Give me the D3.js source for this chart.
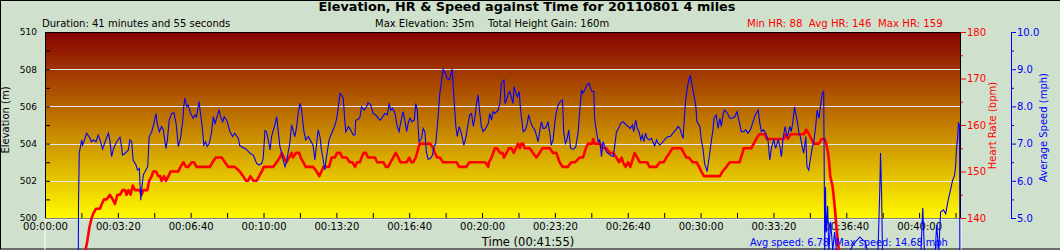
<!DOCTYPE html>
<html>
<head>
<meta charset="utf-8">
<script src="https://cdn.jsdelivr.net/npm/d3@7"></script>
<style>
  body { margin: 0; background: #cfe0cc; }
  svg { display: block; }
  text { font-family: "DejaVu Sans", Verdana, sans-serif; white-space: pre; }
</style>
</head>
<body>
<svg id="chart" width="1060" height="250"></svg>
<script>
// run length and axis ranges
const totalSeconds = 2515;
const elevDomain = [500, 510];
const hrDomain = [140, 180];
const speedDomain = [5, 10];

// tick values
const elevTicks = d3.range(500, 511, 1);
const timeTicks = d3.range(0, totalSeconds, 100);
const hrMajorTicks = [140, 150, 160, 170, 180];
const hrMinorTicks = [145, 155, 165, 175];
const speedMajorTicks = [5, 6, 7, 8, 9, 10];
const speedMinorTicks = [5.5, 6.5, 7.5, 8.5, 9.5];

// elevation (m) - sits far under the 500-510 window
const elevSeconds = [0, 420, 840, 1260, 1680, 2100, 2515];
const elevMeters = [12, 20, 35, 26, 18, 30, 14];

// heart rate (bpm)
const hrSeconds = [0,116,122,128,133,140,151,156,162,169,178,186,192,199,206,213,220,224,229,235,241,247,253,261,265,270,274,281,286,293,297,305,311,316,320,327,332,339,345,352,366,372,380,387,393,403,409,416,453,460,469,485,494,503,512,521,535,544,552,558,564,572,581,588,595,601,608,627,636,645,650,656,663,670,677,681,689,698,702,709,716,723,736,746,753,759,764,773,780,787,796,802,810,817,828,837,844,851,857,865,869,875,881,887,906,912,919,929,936,942,949,956,963,970,976,993,1000,1006,1011,1018,1025,1029,1034,1052,1058,1066,1070,1077,1084,1093,1130,1137,1143,1157,1165,1171,1180,1194,1201,1208,1217,1219,1226,1235,1241,1249,1256,1260,1267,1274,1281,1287,1293,1299,1304,1308,1313,1317,1322,1331,1340,1349,1358,1366,1377,1386,1395,1404,1413,1421,1427,1436,1445,1455,1468,1477,1485,1491,1503,1505,1509,1523,1532,1541,1551,1560,1569,1576,1583,1587,1594,1601,1607,1615,1619,1626,1633,1647,1653,1660,1679,1688,1699,1706,1715,1723,1747,1754,1761,1768,1778,1789,1796,1802,1809,1853,1860,1871,1880,1887,1907,1915,1918,1939,1946,1953,1961,1967,1976,1982,1990,1999,2022,2028,2034,2040,2047,2054,2063,2070,2077,2083,2090,2098,2104,2111,2118,2125,2132,2141,2145,2150,2153,2156,2162,2165,2170,2173,2177,2200,2515];
const hrBpm = [88,135,138,140,141,142,142,143,144,144,145,144,143,145,145,146,146,145,146,145,147,146,146,146,145,146,146,146,148,149,150,150,149,149,148,149,148,149,150,150,150,151,152,151,151,152,152,151,151,152,153,153,152,151,151,151,150,149,148,148,149,148,148,149,150,151,151,151,152,153,154,153,152,153,154,153,154,154,153,152,151,151,151,150,149,150,151,151,151,153,153,154,154,153,153,152,152,151,152,152,153,154,154,153,153,152,152,152,151,151,152,153,154,153,152,152,153,152,152,153,155,156,156,156,156,155,154,153,153,152,152,151,151,151,152,152,152,152,152,152,151,152,153,155,155,154,154,153,154,155,155,154,155,156,155,156,156,155,155,155,154,153,154,155,155,155,154,154,152,151,151,151,152,152,153,153,155,156,156,157,156,156,155,155,154,154,153,152,153,152,151,152,151,153,154,153,152,152,152,151,151,152,152,153,154,155,155,154,153,153,152,152,151,150,149,149,150,151,152,152,152,154,155,155,156,157,158,158,158,157,157,157,157,157,158,157,158,158,158,158,158,158,159,158,157,156,156,156,157,157,156,154,152,149,147,145,141,138,135,118,100];

// average speed (mph)
const speedSeconds = [90,92,94,98,101,103,107,114,122,128,133,140,146,151,158,165,174,178,183,188,197,206,210,213,220,229,233,238,242,250,254,259,263,265,270,277,282,286,293,299,305,308,314,320,325,332,336,341,348,354,360,366,372,378,381,384,389,393,400,407,412,416,423,427,433,436,441,445,451,457,462,467,471,478,482,488,492,499,508,515,521,531,535,542,552,563,572,581,588,595,599,604,608,613,618,622,627,631,636,640,645,650,654,659,663,672,677,682,686,691,695,700,704,711,716,723,729,736,741,746,750,755,759,764,768,773,780,787,793,800,805,810,814,819,823,826,833,839,846,851,853,860,865,869,876,883,887,894,901,908,915,921,927,933,940,945,949,954,961,967,972,976,983,988,993,997,1002,1008,1014,1018,1022,1027,1034,1038,1043,1047,1052,1058,1064,1068,1073,1079,1084,1089,1093,1099,1104,1110,1113,1118,1122,1128,1132,1137,1143,1150,1155,1159,1166,1171,1176,1180,1185,1189,1194,1198,1203,1210,1217,1221,1226,1230,1235,1244,1249,1253,1260,1263,1267,1272,1276,1281,1285,1288,1293,1297,1302,1305,1309,1313,1319,1324,1328,1333,1338,1345,1349,1354,1358,1363,1368,1372,1377,1381,1386,1390,1395,1400,1404,1409,1415,1421,1424,1429,1433,1438,1443,1450,1457,1464,1468,1473,1476,1482,1488,1494,1498,1502,1507,1509,1514,1519,1523,1528,1532,1537,1541,1546,1552,1560,1564,1569,1573,1580,1587,1596,1601,1607,1613,1616,1622,1626,1631,1636,1640,1644,1649,1653,1659,1665,1670,1674,1679,1683,1688,1697,1704,1711,1717,1724,1732,1738,1743,1747,1752,1755,1759,1764,1768,1772,1777,1781,1787,1790,1798,1802,1807,1811,1818,1825,1830,1834,1837,1843,1848,1853,1857,1862,1866,1874,1880,1887,1894,1900,1906,1912,1918,1924,1930,1937,1944,1950,1958,1962,1967,1973,1979,1985,1990,1995,2001,2006,2013,2017,2022,2026,2032,2037,2041,2045,2049,2054,2058,2061,2065,2070,2074,2079,2083,2089,2092,2097,2101,2107,2111,2116,2120,2125,2129,2134,2138,2141,2143,2145,2149,2152,2157,2163,2168,2176,2196,2218,2237,2253,2264,2286,2292,2294,2297,2300,2347,2404,2410,2415,2443,2448,2454,2459,2467,2473,2478,2486,2492,2497,2500,2503,2506,2508,2511,2513];
const speedMph = [0,5.39,6.74,6.96,7.10,6.96,7.05,7.28,7.17,7.05,7.10,7.05,7.23,7.10,6.85,7.05,7.28,7.10,6.65,6.87,7.05,7.17,6.92,6.69,6.74,6.83,7.10,7.05,6.56,6.42,6.29,6.33,5.48,5.75,6.16,6.29,6.38,7.19,7.32,7.54,7.81,7.54,7.32,7.46,7.37,6.87,7.10,7.63,7.81,7.83,7.54,6.92,7.14,7.59,7.99,8.22,7.99,8.04,7.81,7.68,7.77,7.72,8.13,7.81,7.32,6.96,7.05,6.92,7.01,7.28,7.72,7.54,7.68,7.91,7.72,7.59,7.72,7.63,7.32,7.19,7.28,7.14,6.94,6.90,6.85,6.74,6.69,6.47,6.42,6.47,6.60,7.35,7.32,7.10,6.83,7.19,7.37,7.50,7.72,7.37,6.92,6.74,6.56,6.38,6.51,7.01,7.50,7.32,7.19,7.46,7.81,8.08,7.95,7.32,7.10,7.19,7.08,6.96,6.56,7.01,7.37,7.19,6.83,6.56,6.29,6.65,7.10,7.28,7.41,7.63,7.95,8.35,8.31,8.22,7.63,7.32,7.46,7.37,7.23,7.23,7.63,7.65,7.72,7.99,7.90,7.99,8.10,8.04,7.81,7.77,7.68,7.63,7.72,7.81,7.77,8.08,7.90,7.95,7.81,7.46,7.32,7.54,7.86,7.63,7.32,7.54,7.68,7.59,7.63,8.08,7.90,7.05,7.14,7.41,7.32,6.78,6.58,6.60,6.69,6.92,7.01,7.68,8.35,8.71,9.00,8.89,8.75,8.71,8.80,9.00,8.35,7.46,7.19,7.46,7.28,6.96,7.14,7.37,7.77,7.81,7.46,7.68,8.08,8.31,7.81,7.46,7.32,7.41,7.54,7.81,7.63,7.86,7.81,7.90,8.08,8.62,8.71,8.08,8.17,8.35,8.40,8.22,8.08,8.53,8.35,8.26,8.40,7.99,7.63,7.32,7.37,7.54,7.77,7.59,7.46,7.37,7.23,7.05,7.32,7.59,7.41,7.41,7.46,7.59,7.28,6.96,7.10,7.59,7.86,8.04,8.13,8.17,7.32,7.01,7.10,7.37,6.87,6.85,6.90,7.32,7.86,8.44,8.35,8.44,8.58,8.62,8.49,8.40,8.40,7.68,7.32,7.05,7.10,6.65,7.05,6.92,6.78,6.74,6.69,6.65,6.92,7.32,7.37,7.54,7.59,7.50,7.46,7.41,7.50,7.32,7.63,7.41,7.32,7.10,7.23,7.05,7.28,7.14,7.10,7.14,7.02,6.94,7.10,7.01,6.96,7.05,7.14,7.19,7.19,7.28,7.37,7.46,7.41,7.28,7.14,7.63,8.17,8.53,8.71,8.84,8.53,8.35,7.99,7.59,7.46,7.10,6.83,6.47,6.25,6.74,7.10,7.37,7.68,7.77,7.41,7.68,7.46,7.81,7.90,7.81,7.68,7.68,7.72,7.86,7.59,7.32,7.32,7.37,7.28,7.37,7.59,7.77,7.90,7.59,7.32,7.37,7.28,7.10,6.56,6.92,7.10,6.87,7.10,6.96,6.65,7.10,7.46,7.19,7.28,7.46,7.32,7.63,7.99,7.81,7.63,7.28,7.19,6.92,6.74,7.19,6.38,6.29,6.56,6.92,7.05,7.46,7.90,7.68,7.99,8.35,8.40,4.00,5.83,4.62,5.32,4.09,4.89,4.14,4.62,3.82,3.82,4.27,4.49,4.35,3.74,3.74,5.75,6.75,5.62,3.74,3.33,3.82,5.27,4.00,3.82,4.81,4.14,5.16,5.22,5.11,5.40,5.75,6.02,6.13,6.37,6.91,7.18,7.55,7.50,0];

const plot = {left: 45, right: 961, top: 32, bottom: 218};
const svg = d3.select("#chart");

const x = d3.scaleLinear().domain([0, totalSeconds]).range([plot.left, plot.right]);
const yElev = d3.scaleLinear().domain(elevDomain).range([plot.bottom, plot.top]);
const yHr = d3.scaleLinear().domain(hrDomain).range([plot.bottom, plot.top]);
const ySpeed = d3.scaleLinear().domain(speedDomain).range([plot.bottom, plot.top]);
const hms = s => d3.utcFormat("%H:%M:%S")(new Date(s * 1000));

// outer frame
svg.append("rect")
  .attr("x", 0.5).attr("y", 0.5).attr("width", 1070).attr("height", 248.5)
  .attr("fill", "#cfe0cc").attr("stroke", "#000");

// plot background gradient
const grad = svg.append("defs").append("linearGradient")
  .attr("id", "plotFill").attr("x1", 0).attr("y1", 0).attr("x2", 0).attr("y2", 1);
grad.append("stop").attr("offset", "0%").attr("stop-color", "#860200");
grad.append("stop").attr("offset", "100%").attr("stop-color", "#fffa00");
svg.append("rect")
  .attr("x", plot.left).attr("y", plot.top)
  .attr("width", plot.right - plot.left).attr("height", plot.bottom - plot.top)
  .attr("fill", "url(#plotFill)");

// grid lines
svg.append("g").selectAll("line")
  .data([502, 504, 506, 508])
  .enter().append("line")
  .attr("x1", plot.left).attr("x2", plot.right)
  .attr("y1", d => Math.round(yElev(d)) + 0.5).attr("y2", d => Math.round(yElev(d)) + 0.5)
  .attr("stroke", "#e6e6e6");

// Add left axis
svg.append("g")
  .attr("transform", "translate(" + plot.left + ",0)")
  .call(d3.axisLeft(yElev).tickValues(elevTicks).tickSizeInner(-5).tickSizeOuter(0)
    .tickPadding(8).tickFormat(d => d % 2 === 0 ? d : ""))
  .call(g => g.select(".domain").remove())
  .attr("font-family", "DejaVu Sans").attr("font-size", 9).attr("color", "#000");

// Add bottom axis
svg.append("g")
  .attr("transform", "translate(0," + plot.bottom + ")")
  .call(d3.axisBottom(x).tickValues(timeTicks).tickSizeInner(-5).tickSizeOuter(0)
    .tickPadding(4.5).tickFormat(d => d % 200 === 0 ? hms(d) : ""))
  .call(g => g.select(".domain").remove())
  .attr("font-family", "Liberation Mono").attr("font-size", 10).attr("color", "#000");

// Add heart rate axis
const hrAxis = svg.append("g").attr("transform", "translate(" + plot.right + ",0)")
  .attr("font-family", "DejaVu Sans").attr("font-size", 9).attr("color", "#ff0000");
hrAxis.append("g")
  .call(d3.axisRight(yHr).tickValues(hrMajorTicks).tickSizeInner(5).tickSizeOuter(0).tickPadding(1))
  .call(g => g.select(".domain").remove());
hrAxis.append("g")
  .call(d3.axisRight(yHr).tickValues(hrMinorTicks).tickSize(2).tickFormat(""))
  .call(g => g.select(".domain").remove());

// Add speed axis
const spAxis = svg.append("g").attr("transform", "translate(1011,0)")
  .attr("font-family", "DejaVu Sans").attr("font-size", 9).attr("color", "#0000ff");
spAxis.append("g")
  .call(d3.axisRight(ySpeed).tickValues(speedMajorTicks).tickSizeInner(5).tickSizeOuter(0)
    .tickPadding(1).tickFormat(d3.format(".1f")));
spAxis.append("g")
  .call(d3.axisRight(ySpeed).tickValues(speedMinorTicks).tickSize(3).tickFormat(""))
  .call(g => g.select(".domain").remove());

// plot border
svg.append("rect")
  .attr("x", plot.left + 0.5).attr("y", plot.top + 0.5)
  .attr("width", plot.right - plot.left - 1).attr("height", plot.bottom - plot.top)
  .attr("fill", "none").attr("stroke", "#000");

// Add series
svg.append("path")
  .datum(d3.zip(elevSeconds, elevMeters))
  .attr("fill", "none").attr("stroke", "#fff")
  .attr("d", d3.area().x(d => x(d[0])).y0(yElev(500) + 1).y1(d => yElev(d[1])));

svg.append("path")
  .datum(d3.zip(hrSeconds, hrBpm))
  .attr("fill", "none").attr("stroke", "#ff0000").attr("stroke-width", 2.6)
  .attr("stroke-linejoin", "round")
  .attr("d", d3.line().x(d => x(d[0])).y(d => yHr(d[1])));

svg.append("path")
  .datum(d3.zip(speedSeconds, speedMph))
  .attr("fill", "none").attr("stroke", "#0000ff").attr("stroke-width", 1.1)
  .attr("d", d3.line().x(d => x(d[0])).y(d => ySpeed(d[1])));

// Add titles and labels
svg.append("text").text("Elevation, HR & Speed against Time for 20110801 4 miles")
  .attr("x", 527).attr("y", 11).attr("text-anchor", "middle")
  .attr("font-size", 12.8).attr("font-weight", "bold");
svg.append("text").text("Duration: 41 minutes and 55 seconds")
  .attr("x", 42).attr("y", 26.5).attr("font-size", 10);
svg.append("text").text("Max Elevation: 35m")
  .attr("x", 375).attr("y", 26.5).attr("font-size", 10);
svg.append("text").text("Total Height Gain: 160m")
  .attr("x", 488).attr("y", 26.5).attr("font-size", 10);
svg.append("text").text("Min HR: 88  Avg HR: 146  Max HR: 159")
  .attr("x", 747).attr("y", 26.5).attr("font-size", 10.2).attr("fill", "#ff0000");

svg.append("text").text("Elevation (m)")
  .attr("transform", "translate(9,120) rotate(-90)").attr("text-anchor", "middle")
  .attr("font-size", 10);
svg.append("text").text("Heart Rate (bpm)")
  .attr("transform", "translate(995.5,125.5) rotate(-90)").attr("text-anchor", "middle")
  .attr("font-family", "Liberation Mono").attr("font-size", 10).attr("fill", "#ff0000");
svg.append("text").text("Average Speed (mph)")
  .attr("transform", "translate(1047,127.5) rotate(-90)").attr("text-anchor", "middle")
  .attr("font-family", "Liberation Mono").attr("font-size", 10).attr("fill", "#0000ff");

svg.append("text").text("Time (00:41:55)")
  .attr("x", 528).attr("y", 245.5).attr("text-anchor", "middle").attr("font-size", 11.5);
svg.append("text").text("Avg speed: 6.78  Max speed: 14.68 mph")
  .attr("x", 750).attr("y", 245.5).attr("font-size", 9.8).attr("fill", "#0000ff");
</script>
</body>
</html>
